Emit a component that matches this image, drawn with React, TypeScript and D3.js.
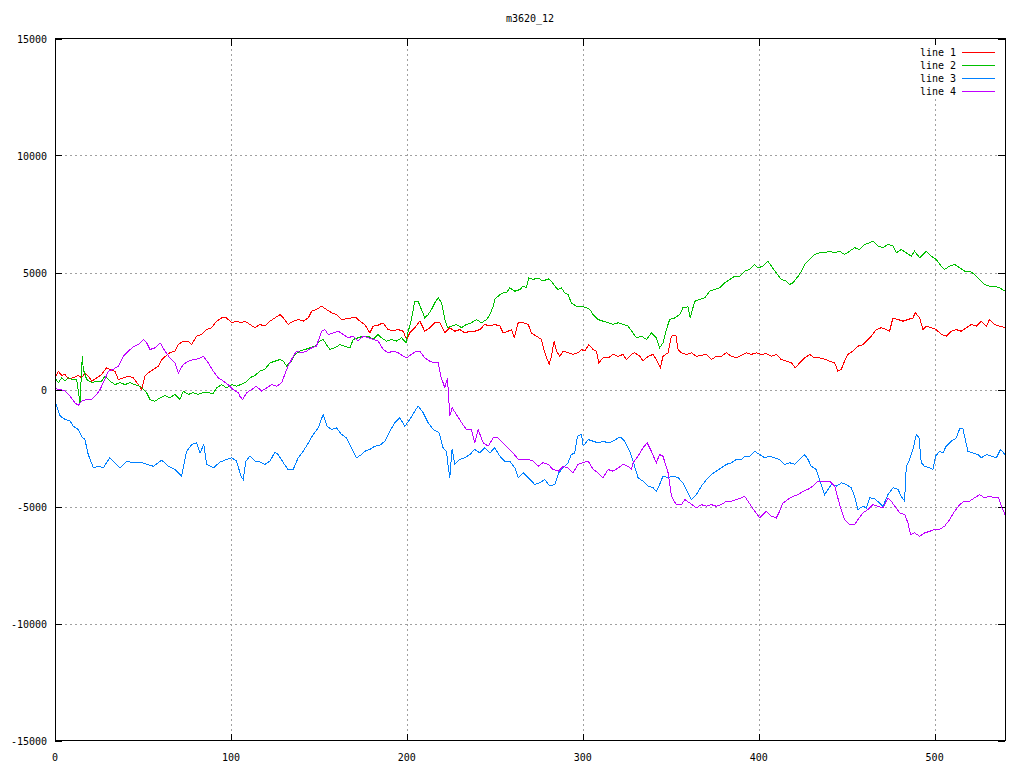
import React from "react";
import * as d3 from "d3";

const title = "m3620_12";
const xTicks = [0, 100, 200, 300, 400, 500];
const yTicks = [-15000, -10000, -5000, 0, 5000, 10000, 15000];
const seriesNames = ["line 1", "line 2", "line 3", "line 4"];
const seriesColors = ["#ff0000", "#00c000", "#0080ff", "#c000ff"];

const line1: [number, number][] = [
  [0.6,570],[1.9,780],[3.8,600],[5.7,640],[7.6,460],[10.4,500],[13.2,600],[15.1,500],[17,710],[18.9,570],
  [20.9,360],[23.7,500],[26.5,640],[29.3,930],[31.2,860],[34.1,780],[36,430],[38.8,500],[41.7,570],[44.5,500],
  [47.3,210],[49.2,0],[51.1,570],[53,710],[55.9,860],[58.7,1000],[60.7,1280],[62.5,1400],[65.3,1570],[68.2,1640],
  [70.1,1920],[72.9,2070],[75.8,2070],[77.7,1920],[80.5,2280],[83.3,2350],[86.2,2560],[89,2640],[91.9,2920],[94.7,3060],
  [97.5,3060],[100.4,2850],[103.2,2920],[106.1,2850],[108,2920],[110.8,2780],[113.6,2640],[116.4,2780],[119.3,2710],[122.2,2920],
  [125,3060],[127.9,3200],[129.8,3060],[132.5,2780],[135.4,2920],[138.2,2990],[141.1,2920],[144,3060],[145.9,3350],[148.6,3420],
  [151.5,3560],[154.3,3420],[157.2,3280],[160.1,3200],[162.9,2990],[165.7,3020],[168.5,3060],[171.4,3060],[173.3,2920],[176.1,2780],
  [179,2420],[180.9,2710],[183.7,2750],[186.5,2850],[189.4,2560],[192.2,2520],[195.1,2560],[197.9,2490],[199.8,2140],[201.7,2420],
  [204.5,2640],[207.4,2920],[210.2,2490],[213.1,2640],[215.9,2850],[218.7,2850],[221.6,2420],[224.4,2640],[227.3,2490],[230.1,2560],
  [233,2420],[235.7,2490],[238.6,2490],[241.5,2560],[244.3,2780],[247.2,2710],[250,2780],[252.9,2710],[254.7,2420],[257.5,2490],
  [259.5,2560],[261,2210],[263.3,2850],[266.1,2850],[269,2780],[270.8,2420],[273.6,2280],[276.5,2140],[278.4,1570],[280.9,1070],
  [282.2,1420],[283.7,2070],[285.1,1640],[287,1420],[288.8,1640],[291.6,1570],[294.5,1500],[297.3,1570],[299.3,1710],[301.2,1640],
  [303.4,1920],[305.9,1710],[307.7,1640],[309.1,1140],[311.5,1350],[314.4,1350],[317.2,1500],[320.1,1420],[322.9,1500],[324.8,1280],
  [327.6,1500],[329.5,1570],[332.4,1420],[334.3,1210],[337.1,1420],[340,1500],[341.8,1280],[344.1,930],[345.6,1420],[348.5,1570],
  [350.4,2280],[352.9,2310],[354.2,1710],[356.1,1570],[358.9,1500],[361.7,1570],[364.6,1420],[367.4,1460],[370.3,1500],[373.1,1280],
  [375.9,1420],[378.8,1420],[381.6,1570],[384.5,1420],[387.3,1350],[390.2,1460],[392.9,1570],[395.8,1500],[398.7,1570],[401.5,1500],
  [404.4,1530],[407.2,1420],[410,1500],[412.8,1280],[415.7,1210],[418.6,1140],[420.8,930],[423.3,1140],[426.2,1350],[428.9,1500],
  [431.8,1350],[434.6,1350],[437.5,1300],[440.4,1210],[443.2,1140],[445,780],[446.9,860],[448.8,1210],[450.7,1500],[453.6,1640],
  [456.4,1850],[459.3,1920],[462.1,2140],[464,2280],[466.8,2560],[469.7,2640],[472.5,2560],[474.4,2490],[476.3,3060],[479.2,2990],
  [482,2920],[484.8,2990],[487.7,3060],[489,3280],[491.5,3060],[493.4,2560],[495.3,2710],[498.1,2640],[500.9,2560],[503.8,2350],
  [506.6,2280],[509.5,2490],[512.3,2560],[515.1,2490],[518,2640],[520.8,2780],[523.7,2710],[526.5,2920],[529.4,2710],[531.2,2990],
  [534,2780],[536.9,2710],[540,2640],
];

const line2: [number, number][] = [
  [0.6,430],[1.9,290],[3.8,500],[5.7,360],[7.6,500],[9.4,430],[12.3,430],[14.2,-570],[15.5,1420],[16.1,860],
  [18,430],[20.9,290],[23.7,360],[26.5,360],[28.4,570],[31.2,360],[34.1,210],[36.9,290],[39.8,210],[42.7,290],
  [45.4,210],[48.3,140],[50.2,0],[52.1,-140],[54,-430],[56.8,-500],[59.7,-360],[62.5,-260],[65.3,-360],[68.2,-210],
  [71,-430],[72.9,-70],[75.8,-210],[78.5,-140],[81.4,-210],[84.3,-120],[87.1,-140],[90,-170],[91.9,70],[94.7,210],
  [97.5,70],[100.4,210],[103.2,140],[105.1,200],[108,290],[110.8,500],[113.6,600],[116.4,780],[119.3,860],[122.2,1140],
  [125,1210],[127.9,1280],[129.8,1210],[131.6,1000],[134.4,1210],[136.3,1500],[139.2,1640],[142.1,1710],[144.9,1780],[147.8,1850],
  [150.5,2070],[152.4,2140],[154.3,1920],[156.2,1710],[159.1,1780],[162,1920],[164.8,1850],[167.6,1780],[169.5,2140],[172.3,2210],
  [175.2,2280],[178,2280],[180.9,2140],[183.7,2350],[185.6,2210],[188.4,2070],[191.3,2140],[194.1,2070],[197,2210],[199.5,2000],
  [200.8,2490],[202.6,2990],[204.5,3770],[206.4,3770],[208.3,3420],[210.2,3060],[212.1,3200],[214,3420],[215.9,3700],[217.8,3920],
  [219.7,3700],[221.6,2990],[223.1,2640],[225.4,2710],[228.2,2780],[231.1,2640],[233.9,2780],[236.7,2850],[239.6,2990],[242.4,2850],
  [245.3,2990],[247.2,3200],[249.1,3560],[250,3850],[252.9,4060],[254.7,4130],[256.6,4130],[258.5,4350],[261.4,4200],[264.2,4270],
  [266.1,4420],[268,4350],[269.3,4770],[271.7,4700],[274.6,4770],[277.4,4630],[280.3,4730],[282.2,4630],[284.1,4420],[286,4270],
  [287.8,4350],[289.7,4130],[291.6,4060],[293.5,3700],[296.4,3560],[299.3,3560],[302.1,3490],[304,3420],[305.9,3200],[308.7,2990],
  [311.5,2920],[314.4,2850],[317.2,2780],[320.1,2850],[322.9,2780],[325.7,2710],[328.5,2420],[330.5,2210],[333.3,2280],[336.2,2140],
  [339,2420],[341.8,2210],[343.7,1780],[345.6,2000],[347.5,2560],[349.4,2990],[352.3,3060],[355.1,3200],[356.9,3490],[359.8,3530],
  [361.1,3060],[363.6,3770],[366.5,3850],[369.3,3920],[372.2,4200],[374.9,4270],[377.8,4350],[380.7,4560],[383.5,4700],[386.4,4840],
  [389.2,4840],[392,5060],[394.8,5130],[397.7,5340],[399.6,5200],[402.5,5270],[405.3,5480],[407.2,5270],[410,4990],[412.8,4700],
  [415.7,4630],[417.6,4490],[419.5,4560],[422.4,4840],[424.3,5060],[426.2,5340],[428.9,5560],[431.8,5770],[434.6,5840],[437.5,5850],
  [440.4,5910],[443.2,5840],[446,5910],[448.8,5770],[451.7,5910],[454.5,6060],[457.4,5980],[460.3,6200],[463.1,6270],[464.9,6340],
  [467.8,6130],[470.6,6060],[473.5,6200],[476.3,6130],[478.2,5840],[481,5980],[483.9,5840],[486.7,5700],[488.6,5910],[491.5,5630],
  [493.4,5770],[495.3,5910],[498.1,5700],[500.9,5560],[503.8,5270],[505.7,5130],[508.5,5270],[511.4,5340],[514.2,5200],[517,5060],
  [519.9,5060],[522.7,4920],[525.6,4700],[528.4,4490],[531.2,4420],[534,4420],[536.9,4350],[540,4200],
];

const line3: [number, number][] = [
  [0.6,-640],[3,-1140],[5.7,-1280],[8.6,-1350],[10.4,-1570],[13.2,-1710],[15.1,-2000],[17,-2140],[18.9,-2780],[21.8,-3350],
  [24.7,-3280],[27.4,-3350],[31.2,-2920],[34.1,-3130],[36.9,-3350],[40.8,-3060],[44.5,-3130],[48.3,-3100],[52.1,-3200],[55.9,-3280],
  [60.7,-3020],[64.4,-3280],[68.2,-3420],[72,-3700],[74.8,-2640],[77.7,-2350],[80.5,-2280],[82.4,-2710],[84.6,-2350],[86.2,-3200],
  [90,-3350],[93.8,-3100],[97.5,-2990],[100.4,-2920],[103.2,-3060],[105.7,-3700],[107,-3850],[108.5,-3060],[110.8,-2850],[113.6,-3060],
  [116.4,-3100],[119.3,-3200],[122.2,-3060],[125,-2680],[126.9,-2780],[129.8,-3130],[132.5,-3420],[135.4,-3420],[138.2,-2920],[141.1,-2640],
  [144,-2280],[146.8,-1920],[149.6,-1640],[152.4,-1070],[154.7,-1570],[157.2,-1710],[160.1,-1640],[162.9,-1920],[165.7,-2070],[168.5,-2490],
  [171.4,-2920],[174.2,-2780],[176.1,-2640],[179,-2560],[181.9,-2420],[184.6,-2390],[187.5,-2210],[190.3,-1780],[193.2,-1420],[196,-1210],
  [198.9,-1570],[201.7,-1280],[204.5,-930],[206.4,-710],[209.3,-1000],[212.1,-1420],[215,-1710],[218.3,-1850],[220.6,-2490],[222.5,-2640],
  [223.5,-3280],[224.4,-3770],[225.7,-2560],[227.3,-3200],[230.1,-2990],[233,-2920],[235.8,-2780],[238.6,-2560],[241.5,-2710],[244.3,-2490],
  [247.2,-2710],[250,-2490],[252.9,-2850],[255.6,-3060],[258.5,-3060],[261.4,-3350],[263.3,-3770],[266.1,-3560],[269,-3770],[272.7,-4060],
  [275.5,-3990],[278.4,-3850],[281.3,-4130],[284.1,-4060],[286.4,-3560],[288.8,-3350],[291.6,-3130],[293.5,-2780],[295.4,-2710],[297,-2000],
  [299.3,-1920],[300.2,-2420],[303.1,-2140],[305.9,-2210],[308.7,-2280],[311.5,-2210],[314.4,-2280],[317.2,-2210],[320.1,-2070],[322,-2070],
  [323.8,-2210],[326.7,-2640],[328.6,-3060],[331.4,-3770],[334.3,-3920],[337.1,-4130],[340,-4200],[341.8,-4350],[343.7,-4060],[345.6,-3700],
  [348.5,-3770],[351.3,-3700],[354.2,-3770],[356.9,-3990],[359.8,-4420],[361.7,-4700],[364.6,-4490],[367.4,-4130],[370.3,-3850],[373.1,-3630],
  [375.9,-3490],[378.8,-3350],[381.6,-3200],[384.5,-3130],[387.3,-2990],[390.2,-2990],[392,-2850],[394.8,-2850],[397.7,-2640],[400.6,-2780],
  [403.4,-2920],[406.3,-2850],[409.1,-2920],[411.9,-2990],[414.7,-3200],[417.6,-3130],[420.5,-3200],[423.3,-2990],[426.2,-2780],[428,-2990],
  [429.9,-3280],[432.7,-3420],[434.6,-3850],[437.5,-4490],[440,-4200],[441.3,-4060],[444.2,-4130],[447,-3990],[449.8,-4060],[452.6,-4200],
  [454.5,-4560],[456.4,-5130],[459.3,-4990],[461.2,-5060],[463.1,-4630],[465.9,-4670],[468.7,-4850],[470.6,-4990],[473.5,-4490],[476.3,-4200],
  [479.2,-4270],[481,-4560],[482.9,-4770],[483.9,-3280],[485.8,-2990],[487.7,-2560],[489.6,-1920],[491.1,-2070],[492.4,-3130],[494.2,-3280],
  [497.2,-3350],[499,-3420],[500.5,-2850],[502.8,-2640],[504.7,-2710],[506.6,-2420],[509.5,-2210],[512.3,-2070],[514.2,-1680],[516.1,-1680],
  [518.9,-2640],[521.8,-2710],[524.6,-2780],[526.5,-2920],[529.4,-2780],[532.2,-2850],[535.1,-2920],[537.5,-2560],[540,-2780],
];

const line4: [number, number][] = [
  [0.6,30],[2.9,0],[5.7,-70],[8.6,-290],[11.3,-570],[13.2,-680],[15.1,-500],[18,-430],[20.9,-430],[23.7,-210],
  [25.6,0],[27.4,290],[30.3,780],[33.1,860],[36,1000],[38.8,1420],[41.7,1640],[44.5,1820],[47.3,1920],[50.2,2140],
  [52.1,2000],[54,1710],[56.8,1780],[59.7,2000],[62.5,1640],[65.3,1350],[68.2,1140],[70.1,710],[72.9,1070],[75.8,1210],
  [78.5,1280],[81.4,1310],[84.3,1420],[87.1,1140],[90,780],[92.8,500],[95.7,360],[98.4,210],[101.3,0],[104.2,-140],
  [105.1,-290],[106.6,-430],[108.9,-140],[111.8,0],[114.5,140],[117.4,-70],[120.3,70],[123.1,210],[126,140],[128.8,290],
  [130.6,640],[132.5,1000],[135.4,1420],[137.3,1640],[140.2,1570],[143,1640],[145.9,1780],[148.6,1850],[151.5,2490],[153.4,2560],
  [155.3,2350],[158.1,2420],[161,2490],[163.9,2350],[166.6,2210],[169.5,2280],[172.3,2070],[175.2,2280],[178,2210],[180.9,2140],
  [183.7,2070],[186.5,1710],[189.4,1570],[192.2,1640],[195.1,1570],[197.9,1420],[199.8,1350],[202.6,1500],[205.5,1640],[207.4,1640],
  [210.2,1350],[213.1,1210],[215.9,1140],[217.8,1140],[219.3,570],[221.6,70],[223.1,500],[224.4,-1140],[225.7,-780],[228.2,-1070],
  [231.1,-1420],[233.9,-1710],[236.7,-1710],[238.6,-2280],[240.5,-1710],[243.4,-2280],[246.2,-2420],[249.1,-2070],[251.9,-2070],[254.7,-2280],
  [257.5,-2490],[260.4,-2710],[263.3,-2990],[266.1,-2990],[269,-2990],[271.7,-3060],[274.6,-3280],[277.4,-3130],[280.3,-3200],[283.2,-3420],
  [286,-3490],[288.8,-3280],[291.6,-3350],[294.5,-3560],[297.3,-3200],[300.2,-3130],[303.1,-3060],[305.9,-3420],[308.7,-3560],[311.5,-3770],
  [314.4,-3420],[317.2,-3490],[320.1,-3350],[322.9,-3200],[325.7,-3280],[327.6,-3420],[328.6,-3130],[331.4,-2850],[334.3,-2490],[336.6,-2280],
  [339,-2640],[341.8,-3130],[343.7,-2780],[345.6,-2850],[348.5,-3560],[350.4,-4560],[353.1,-4920],[356.1,-4920],[358,-4700],[360.8,-4850],
  [364.6,-5060],[367.4,-4920],[370.3,-4990],[373.1,-4920],[375.9,-4990],[378.8,-4920],[381.6,-4770],[384.5,-4770],[387.3,-4700],[390.2,-4630],
  [392,-4560],[393.9,-4770],[395.8,-4990],[397.7,-5200],[400.6,-5490],[402.5,-5340],[404.4,-5200],[407.2,-5410],[410,-5490],[411.9,-5200],
  [413.8,-4850],[416.6,-4700],[419.5,-4560],[422.4,-4490],[425.2,-4350],[428,-4270],[430.8,-4130],[433.7,-3920],[436.5,-3920],[440.4,-3920],
  [443.2,-4130],[446,-4920],[448.8,-5560],[451.7,-5770],[454.5,-5770],[456.4,-5560],[459.3,-5270],[462.1,-5130],[464.9,-4920],[467.8,-4990],
  [470.6,-5060],[473.5,-4630],[475.4,-4770],[477.3,-4990],[480.2,-5270],[483,-5340],[484.8,-5700],[486.3,-6200],[488.6,-6130],[491.5,-6270],
  [494.3,-6130],[497.2,-6060],[500,-5980],[502.8,-5980],[505.7,-5840],[508.5,-5560],[511.4,-5200],[514.2,-4920],[517,-4770],[519.9,-4770],
  [522.7,-4630],[525.6,-4490],[528.4,-4630],[531.2,-4560],[534,-4630],[536.3,-4630],[537.9,-4990],[540,-5340],
];

const allSeries = [line1, line2, line3, line4];

const W = 1024;
const H = 768;
const M = { left: 55, right: 1005, top: 38.5, bottom: 740.5 };
const FONT = "'DejaVu Sans Mono', monospace";

export default function App() {
  const x = d3.scaleLinear().domain([0, 540]).range([M.left, M.right]);
  const y = d3.scaleLinear().domain([-15000, 15000]).range([M.bottom, M.top]);
  const lineGen = d3
    .line<[number, number]>()
    .x((d) => x(d[0]))
    .y((d) => y(d[1]));
  const tick = 7;
  const px = (v: number) => Math.round(v) + 0.5;

  return (
    <svg
      width={W}
      height={H}
      style={{ position: "absolute", left: 0, top: 0, background: "#fff" }}
      fontFamily={FONT}
      fontSize={10}
    >
      <rect x={0} y={0} width={W} height={H} fill="#fff" />
      <text x={(M.left + M.right) / 2} y={22} textAnchor="middle" fill="#000">
        {title}
      </text>

      {/* grid */}
      <g stroke="#a0a0a0" strokeWidth={1} strokeDasharray="2,3" shapeRendering="crispEdges">
        {xTicks.filter((t) => t > 0).map((t) => (
          <line key={"gx" + t} x1={px(x(t))} x2={px(x(t))} y1={M.top} y2={M.bottom} />
        ))}
        {yTicks.filter((t) => t > -15000 && t < 15000).map((t) => (
          <line key={"gy" + t} x1={M.left} x2={M.right} y1={px(y(t))} y2={px(y(t))} />
        ))}
      </g>

      {/* ticks */}
      <g stroke="#000" strokeWidth={1} shapeRendering="crispEdges">
        {xTicks.map((t) => (
          <g key={"tx" + t}>
            <line x1={px(x(t))} x2={px(x(t))} y1={M.bottom} y2={M.bottom - tick} />
            <line x1={px(x(t))} x2={px(x(t))} y1={M.top} y2={M.top + tick} />
          </g>
        ))}
        {yTicks.map((t) => (
          <g key={"ty" + t}>
            <line x1={M.left} x2={M.left + tick} y1={px(y(t))} y2={px(y(t))} />
            <line x1={M.right} x2={M.right - tick} y1={px(y(t))} y2={px(y(t))} />
          </g>
        ))}
      </g>

      {/* tick labels */}
      {xTicks.map((t) => (
        <text key={"lx" + t} x={x(t)} y={761} textAnchor="middle" fill="#000">
          {t}
        </text>
      ))}
      {yTicks.map((t) => (
        <text key={"ly" + t} x={47} y={y(t) + 4} textAnchor="end" fill="#000">
          {t}
        </text>
      ))}

      {/* series */}
      <g fill="none" strokeWidth={1} shapeRendering="crispEdges">
        {allSeries.map((s, i) => (
          <path key={"s" + i} d={lineGen(s) || ""} stroke={seriesColors[i]} />
        ))}
      </g>

      {/* legend */}
      <rect x={914} y={45} width={85} height={52} fill="#fff" />
      {seriesNames.map((n, i) => (
        <g key={"lg" + i}>
          <text x={956} y={52 + i * 13 + 4} textAnchor="end" fill="#000">
            {n}
          </text>
          <line
            x1={962}
            x2={995}
            y1={px(52 + i * 13)}
            y2={px(52 + i * 13)}
            stroke={seriesColors[i]}
            strokeWidth={1}
            shapeRendering="crispEdges"
          />
        </g>
      ))}

      {/* border */}
      <rect
        x={M.left + 0.5}
        y={M.top}
        width={M.right - M.left - 0.5}
        height={M.bottom - M.top}
        fill="none"
        stroke="#000"
        strokeWidth={1}
        shapeRendering="crispEdges"
      />
    </svg>
  );
}
